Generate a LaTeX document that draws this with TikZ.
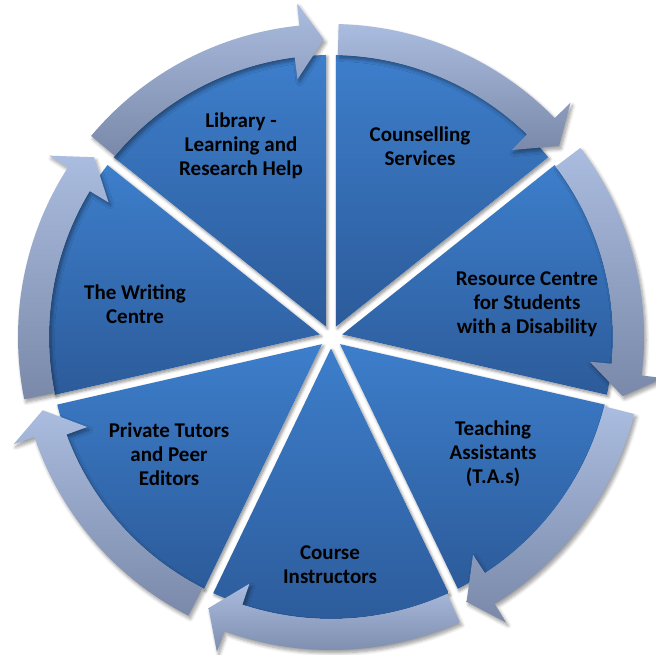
\documentclass[tikz,border=0pt]{standalone}
\usepackage{fontspec}
\setmainfont{Carlito}
\usetikzlibrary{shadows.blur}
\definecolor{wedgetop}{HTML}{3D7ECB}
\definecolor{wedgebot}{HTML}{2C5B9A}
\definecolor{arrtop}{HTML}{AABCDF}
\definecolor{arrbot}{HTML}{7A89A9}
\begin{document}
\begin{tikzpicture}[x=1pt,y=1pt,
  wedgefill/.style={top color=wedgetop, bottom color=wedgebot, draw=none},
  wedgeshadow/.style={fill=white, draw=none, blur shadow={shadow xshift=1.5pt, shadow yshift=-2pt, shadow blur radius=3pt, shadow blur steps=6, shadow opacity=45}},
  ringarrow/.style={top color=arrtop, bottom color=arrbot, draw=none, blur shadow={shadow xshift=2pt, shadow yshift=-3pt, shadow blur radius=3.5pt, shadow blur steps=6, shadow opacity=40}},
  seglabel/.style={align=center, font=\bfseries\fontsize{21}{24}\selectfont, text=black, inner sep=0pt}
]
\useasboundingbox (0,0) rectangle (656,655);
\begin{scope}[shift={(331,318)}]
  % wedge shadows
  \foreach \k in {0,...,6} {
    \pgfmathsetmacro\ahi{90-\k*360/7}
    \pgfmathsetmacro\alo{\ahi-360/7}
    \pgfmathsetmacro\amid{\ahi-180/7}
    \pgfmathsetmacro\ea{\ahi-1.016}
    \pgfmathsetmacro\eb{\alo+1.016}
    \path[wedgeshadow] (\amid:11.5pt) -- (\ea:282pt) arc[start angle=\ea, end angle=\eb, radius=282pt] -- cycle;
  }
  % wedges
  \foreach \k in {0,...,6} {
    \pgfmathsetmacro\ahi{90-\k*360/7}
    \pgfmathsetmacro\alo{\ahi-360/7}
    \pgfmathsetmacro\amid{\ahi-180/7}
    \pgfmathsetmacro\ea{\ahi-1.016}
    \pgfmathsetmacro\eb{\alo+1.016}
    \path[wedgefill] (\amid:11.5pt) -- (\ea:282pt) arc[start angle=\ea, end angle=\eb, radius=282pt] -- cycle;
  }
  % ring arrows
  \foreach \k in {0,...,6} {
    \pgfmathsetmacro\ahi{90-\k*360/7}
    \pgfmathsetmacro\alo{\ahi-360/7}
    \pgfmathsetmacro\ta{\ahi-1.4}
    \pgfmathsetmacro\pa{\alo+1.4}
    \pgfmathsetmacro\bo{\pa+4.4}
    \pgfmathsetmacro\bi{\pa+6}
    \path[ringarrow] (\ta:313pt) arc[start angle=\ta, end angle=\bo, radius=313pt] -- (\bo:335pt) -- (\pa:297.5pt) -- (\bi:260pt) -- (\bi:282pt) arc[start angle=\bi, end angle=\ta, radius=282pt] -- cycle;
  }
\end{scope}
\node[seglabel] (lib) at (241,509) {Library -\\Learning and\\Research Help};
\node[seglabel] (cou) at (420,509) {Counselling\\Services};
\node[seglabel] (res) at (527,351) {Resource Centre\\for Students\\with a Disability};
\node[seglabel] (tea) at (493,201) {Teaching\\Assistants\\(T.A.s)};
\node[seglabel] (cin) at (330,90) {Course\\Instructors};
\node[seglabel] (pri) at (169,201) {Private Tutors\\and Peer\\Editors};
\node[seglabel] (wri) at (135,351) {The Writing\\Centre};
\end{tikzpicture}
\end{document}
